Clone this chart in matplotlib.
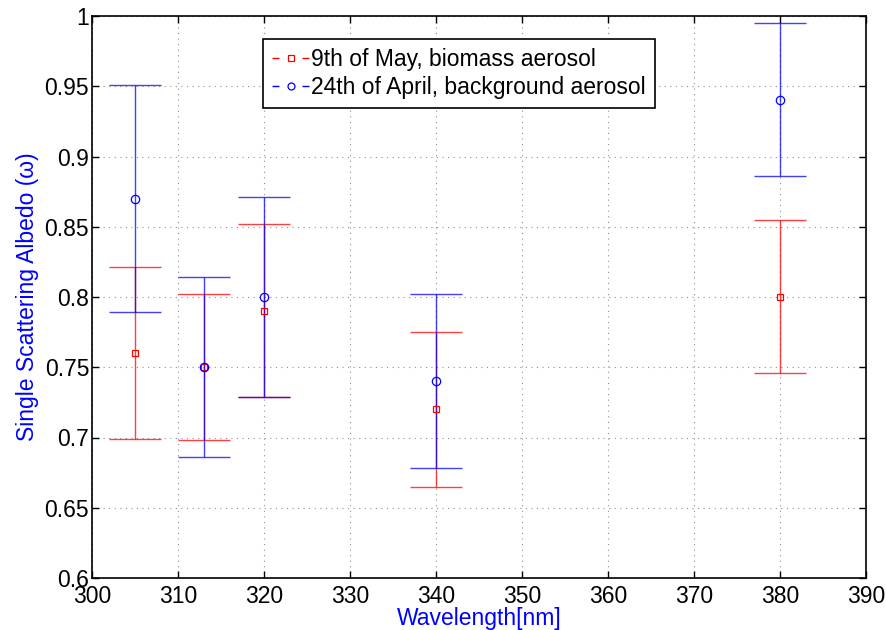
"""Single scattering albedo vs wavelength for two aerosol cases"""

import matplotlib
matplotlib.use('Agg')
import matplotlib.pyplot as plt
from matplotlib.lines import Line2D
import numpy as np

plt.rcParams['font.family'] = ['Liberation Sans', 'DejaVu Sans']

# Wavelengths [nm]
aWave = [305, 313, 320, 340, 380]

# 9th of May, biomass aerosol
aRed    = [0.76, 0.75, 0.79, 0.72, 0.80]
aRedLo  = [0.699, 0.698, 0.729, 0.665, 0.746]
aRedHi  = [0.821, 0.802, 0.852, 0.775, 0.855]

# 24th of April, background aerosol
aBlue   = [0.87, 0.75, 0.80, 0.74, 0.94]
aBlueLo = [0.789, 0.686, 0.729, 0.678, 0.886]
aBlueHi = [0.951, 0.814, 0.871, 0.802, 0.995]

lLabels = ['9th of May, biomass aerosol', '24th of April, background aerosol']

nFont = 16.5


def _errbar(ax, aX, aY, aLo, aHi, sColor, sMarker, nMs):
	aY = np.array(aY)
	aErr = [aY - np.array(aLo), np.array(aHi) - aY]
	ax.errorbar(aX, aY, yerr=aErr, fmt='none', ecolor=sColor, elinewidth=1.0,
		capsize=18.5, capthick=1.0, alpha=0.75, zorder=3)
	ax.plot(aX, aY, linestyle='none', marker=sMarker, ms=nMs, mfc='none',
		mec=sColor, mew=0.9, zorder=4)


fig = plt.figure(figsize=(8.86, 6.30), dpi=100)
ax = fig.add_axes([92/886, 1 - 578/630, (866 - 92)/886, (578 - 16)/630])

_errbar(ax, aWave, aRed, aRedLo, aRedHi, 'red', 's', 4.5)
_errbar(ax, aWave, aBlue, aBlueLo, aBlueHi, 'blue', 'o', 6)

ax.set_xlim(300, 390)
ax.set_ylim(0.6, 1.0)
ax.set_xticks(np.arange(300, 391, 10))
ax.set_yticks(np.arange(0.6, 1.001, 0.05))
ax.set_yticklabels(['0.6', '0.65', '0.7', '0.75', '0.8', '0.85', '0.9', '0.95', '1'])
ax.grid(True, linestyle=(0, (1, 4)), color='#909090', linewidth=0.8)
ax.tick_params(direction='in', top=True, right=True, length=5, width=1,
	labelsize=nFont)
ax.tick_params(axis='x', pad=5)
ax.tick_params(axis='y', pad=2)
for sp in ax.spines.values():
	sp.set_linewidth(1.2)

ax.set_xlabel('Wavelength[nm]', color='blue', fontsize=nFont, labelpad=-1)
ax.set_ylabel('Single Scattering Albedo (\u03c9)', color='blue', fontsize=nFont,
	labelpad=4)

# Legend handles: short dash, marker, short dash
tDash = (0, (5, 16.6))
lHandles = [
	Line2D([], [], color='red', linestyle=tDash, marker='s', ms=4.5,
		mfc='none', mew=0.9, lw=1),
	Line2D([], [], color='blue', linestyle=tDash, marker='o', ms=5,
		mfc='none', mew=0.9, lw=1),
]
leg = ax.legend(lHandles, lLabels, loc='upper left',
	bbox_to_anchor=((263 - 92)/774, 1 - (39 - 16)/562), fontsize=nFont,
	frameon=True, fancybox=False, edgecolor='black', framealpha=1,
	handlelength=1.6, handletextpad=0.1, borderpad=0.4, labelspacing=0.2,
	borderaxespad=0)
leg.get_frame().set_linewidth(1.2)

fig.savefig('out.png', dpi=100)
